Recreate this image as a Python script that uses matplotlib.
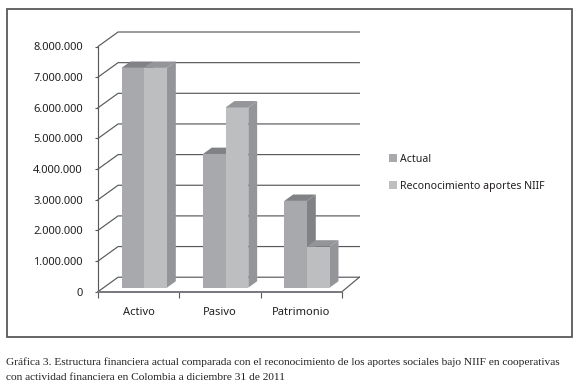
import matplotlib
matplotlib.use('Agg')
import matplotlib.pyplot as plt
from matplotlib.patches import Patch, Polygon, Rectangle
from matplotlib.ticker import FuncFormatter

categories = ['Activo', 'Pasivo', 'Patrimonio']
actual = [7170000, 4360000, 2830000]
niif = [7170000, 5880000, 1340000]
series_names = ['Actual', 'Reconocimiento aportes NIIF']
y_ticks = [0, 1000000, 2000000, 3000000, 4000000, 5000000, 6000000, 7000000, 8000000]
caption = ['Gráfica 3. Estructura financiera actual comparada con el reconocimiento de los aportes sociales bajo NIIF en cooperativas',
           'con actividad financiera en Colombia a diciembre 31 de 2011']

W, H = 580, 389
LINE = '#58595b'
# front, top, side colours of each series
COL_ACTUAL = ('#a7a9ac', '#808285', '#808285')
COL_NIIF = ('#bcbec0', '#939598', '#939598')

# oblique depth of the 3D box, in data units
DX = 20 / 81.0
DX_RIGHT = 17.3 / 81.0   # right end of the box is a little shorter
DY = 14.5 / 30.65 * 1000000
BAR_W = 22.6 / 81.0
BAR_START = 0.28   # bar front, as part of the depth
BAR_DEPTH = 0.44


def bar3d(ax, x, value, cols):
    x0 = x + BAR_START * DX
    x1 = x0 + BAR_W
    y0 = BAR_START * DY
    y1 = y0 + value
    ox, oy = BAR_DEPTH * DX, BAR_DEPTH * DY
    ax.add_patch(Polygon([(x0, y0), (x1, y0), (x1, y1), (x0, y1)], fc=cols[0], ec='none', clip_on=False, zorder=4))
    ax.add_patch(Polygon([(x0, y1), (x1, y1), (x1 + ox, y1 + oy), (x0 + ox, y1 + oy)], fc=cols[1], ec='none', clip_on=False, zorder=4))
    ax.add_patch(Polygon([(x1, y0), (x1 + ox, y0 + oy), (x1 + ox, y1 + oy), (x1, y1)], fc=cols[2], ec='none', clip_on=False, zorder=3))


fig = plt.figure(figsize=(W / 100, H / 100), dpi=100)
plt.rcParams['font.family'] = ['Noto Sans', 'DejaVu Sans']
ax = fig.add_axes([98 / W, (H - 291.7) / H, 244 / W, 245.2 / H])
ax.patch.set_alpha(0)
ax.set_xlim(0, 3)
ax.set_ylim(0, 8000000)

# back wall and left wall lines
for t in y_ticks:
    ax.plot([0, DX, 3 + DX_RIGHT], [t, t + DY, t + DY], color=LINE, lw=0.85, clip_on=False, zorder=1,
            solid_joinstyle='miter')
ax.plot([3, 3 + DX_RIGHT], [0, DY], color=LINE, lw=0.85, clip_on=False, zorder=1)

# bars
for i in range(len(categories)):
    bar3d(ax, i + 0.5 - BAR_W, actual[i], COL_ACTUAL)
    bar3d(ax, i + 0.5, niif[i], COL_NIIF)

for s in ['top', 'right']:
    ax.spines[s].set_visible(False)
ax.spines['left'].set_color(LINE)
ax.spines['left'].set_linewidth(0.85)
ax.spines['bottom'].set_color('#77787b')
ax.spines['bottom'].set_linewidth(1.4)
ax.spines['bottom'].set_zorder(5)

ax.set_yticks(y_ticks)
ax.yaxis.set_major_formatter(FuncFormatter(lambda v, p: f'{int(v):,}'.replace(',', '.')))
ax.tick_params(axis='y', length=2, width=0.8, color=LINE, pad=9, labelsize=8, labelcolor='#231f20')
ax.set_xticks([0, 1, 2, 3])
ax.set_xticklabels([])
ax.set_xticks([0.5, 1.5, 2.5], categories, minor=True)
ax.tick_params(axis='x', which='major', length=4, width=0.8, color=LINE)
ax.tick_params(axis='x', which='minor', length=0, pad=11, labelsize=8, labelcolor='#231f20')

handles = [Patch(fc=COL_ACTUAL[0], ec='none'), Patch(fc=COL_NIIF[0], ec='none')]
fig.legend(handles, series_names, loc='upper left', bbox_to_anchor=(385.5 / W, 1 - 150.5 / H), frameon=False,
           fontsize=7.6, handlelength=0.8, handleheight=0.8, handletextpad=0.3, labelspacing=1.55,
           labelcolor='#231f20', borderpad=0.3, borderaxespad=0)

# outer frame of the chart
fig.add_artist(Rectangle((6.5 / W, (H - 337) / H), 565.5 / W, 328.5 / H, transform=fig.transFigure,
                         fc='none', ec='#58595b', lw=1.3))

for line, y in zip(caption, [362, 378]):
    fig.text(6 / W, 1 - y / H, line, family=['Liberation Serif'], fontsize=8.2, color='#231f20',
             ha='left', va='center')

fig.savefig('out.png', dpi=100)
